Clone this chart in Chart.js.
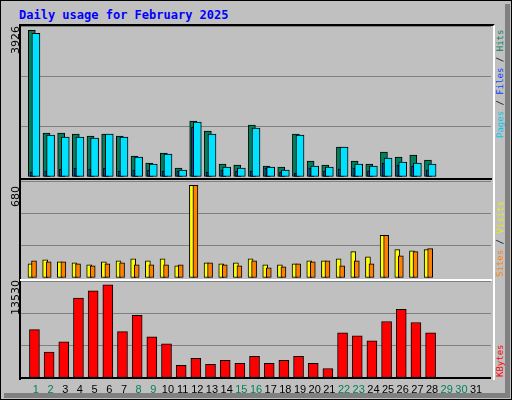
<!DOCTYPE html>
<html>
<head>
<meta charset="utf-8">
<script src="https://cdn.jsdelivr.net/npm/chart.js@4"></script>
<style>
body { margin: 0; background: #fff; }
#frame { position: absolute; left: 0; top: 0; width: 510px; height: 398px; border: 1px solid #000; background: #c0c0c0; }
#shadeR { position: absolute; left: 505px; top: 4px; width: 5px; height: 394px; background: #808080; }
#shadeB { position: absolute; left: 4px; top: 393px; width: 506px; height: 5px; background: #808080; }
#title { position: absolute; left: 19px; top: 8px; font: bold 12px "DejaVu Sans Mono", monospace; color: #0000ff; }
canvas { position: absolute; }
.box { position: absolute; }
.vlab { position: absolute; transform-origin: 0 0; transform: rotate(-90deg); white-space: nowrap; font: 9px "DejaVu Sans Mono", monospace; }
.ylab { position: absolute; transform-origin: 0 0; transform: rotate(-90deg); white-space: nowrap; font: 11px "DejaVu Sans", sans-serif; color: #000; }
</style>
</head>
<body>
<div id="frame"></div>
<div id="shadeR"></div>
<div id="shadeB"></div>
<div id="title">Daily usage for February 2025</div>
<div class="box" style="left:19px;top:24px;width:472px;height:354px;border-top:2px solid #000;border-left:2px solid #000;border-right:2px solid #fff;"></div>
<div class="box" style="left:20px;top:178px;width:472px;height:2px;background:#000;"></div>
<div class="box" style="left:20px;top:279px;width:472px;height:2px;background:#fff;"></div>
<canvas id="c1" style="left:21px;top:26px;width:470px;height:151px;"></canvas>
<canvas id="c2" style="left:21px;top:181px;width:470px;height:97px;"></canvas>
<canvas id="c3" style="left:21px;top:281px;width:470px;height:118px;"></canvas>
<div class="ylab" style="left:9px;top:54px;">3926</div>
<div class="ylab" style="left:9px;top:207px;">680</div>
<div class="ylab" style="left:9px;top:315px;">13530</div>
<div class="vlab" style="left:495px;top:138px;"><span style="color:#00c8e8">Pages</span> / <span style="color:#0040ff">Files</span> / <span style="color:#00805c">Hits</span></div>
<div class="vlab" style="left:495px;top:277px;"><span style="color:#ff8000">Sites</span> / <span style="color:#e8e800">Visits</span></div>
<div class="vlab" style="left:495px;top:377px;"><span style="color:#ff0000">KBytes</span></div>
<script>
var days = [];
for (var i = 1; i <= 31; i++) days.push(i);
var weekendDays = [1, 2, 8, 9, 15, 16, 22, 23, 29, 30];

var hits  = [3926,1175,1175,1148,1095,1148,1095,561,374,641,240,1495,1228,347,320,1388,294,267,1148,427,320,801,427,347,668,534,587,454];
var pages = [3846,1121,1068,1068,1041,1148,1068,534,347,614,187,1468,1148,267,240,1308,267,187,1121,294,267,801,347,294,507,401,374,347];
var files = [133,160,214,240,214,240,160,187,187,160,160,1335,133,187,160,160,240,133,107,240,160,214,240,160,374,320,294,187];
var visits = [104,134,119,111,96,119,126,141,126,141,89,680,111,104,111,141,96,96,104,126,126,141,193,156,312,208,200,208];
var sites  = [126,119,119,104,89,104,111,96,96,96,96,680,111,96,89,126,74,82,104,119,126,89,126,104,312,163,193,215];
var kbytes = [7013,3753,5235,11606,12643,13530,6717,9087,5976,4939,1827,2864,1975,2568,2124,3161,2124,2568,3161,2124,1383,6568,6124,5383,8198,9976,8050,6568];

function pts(values, shift) {
    return values.map(function (v, i) { return { x: days[i] + shift, y: v }; });
}

function bars(values, shift, color, width) {
    return { data: pts(values, shift), backgroundColor: color, borderColor: '#000', borderWidth: 1,
             barThickness: width, grouped: false, borderSkipped: false };
}

function makeChart(id, datasets, yMax, showX) {
    return new Chart(document.getElementById(id), {
        type: 'bar',
        data: { datasets: datasets },
        options: {
            responsive: false, animation: false,
            layout: { padding: 0 },
            plugins: { legend: { display: false }, tooltip: { enabled: false } },
            scales: {
                x: {
                    type: 'linear', min: 0.5, max: 31.5, display: showX,
                    afterBuildTicks: function (s) { s.ticks = days.map(function (d) { return { value: d }; }); },
                    afterFit: function (s) { s.height = showX ? 21 : 0; },
                    grid: { display: false, drawTicks: false },
                    border: { display: true, color: '#000', width: 2 },
                    ticks: {
                        padding: 5, autoSkip: false, maxRotation: 0,
                        font: { family: 'Liberation Sans', size: 11 },
                        color: function (c) { return weekendDays.indexOf(c.tick.value) >= 0 ? '#00805c' : '#000'; }
                    }
                },
                y: {
                    min: 0, max: yMax, display: true,
                    afterFit: function (s) { s.width = 0; },
                    ticks: { display: false, stepSize: yMax / 3 },
                    grid: { color: '#808080', lineWidth: 1, drawTicks: false },
                    border: { display: false }
                }
            }
        }
    });
}

function sizeCanvas(id) {
    var c = document.getElementById(id);
    c.width = parseInt(c.style.width); c.height = parseInt(c.style.height);
}
['c1', 'c2', 'c3'].forEach(sizeCanvas);

makeChart('c1', [
    bars(files, -0.33, '#0040ff', 2),
    bars(pages, 0.0, '#00e0ff', 8),
    bars(hits, -0.28, '#00805c', 7)
], Math.round(Math.max.apply(null, hits) * 1.03), false);

makeChart('c2', [
    bars(sites, -0.13, '#ff8000', 5),
    bars(visits, -0.37, '#ffff00', 5)
], Math.round(Math.max.apply(null, visits) * 1.045), false);

makeChart('c3', [
    bars(kbytes, -0.1, '#ff0000', 10)
], Math.round(Math.max.apply(null, kbytes) * 1.04), true);
</script>
</body>
</html>
